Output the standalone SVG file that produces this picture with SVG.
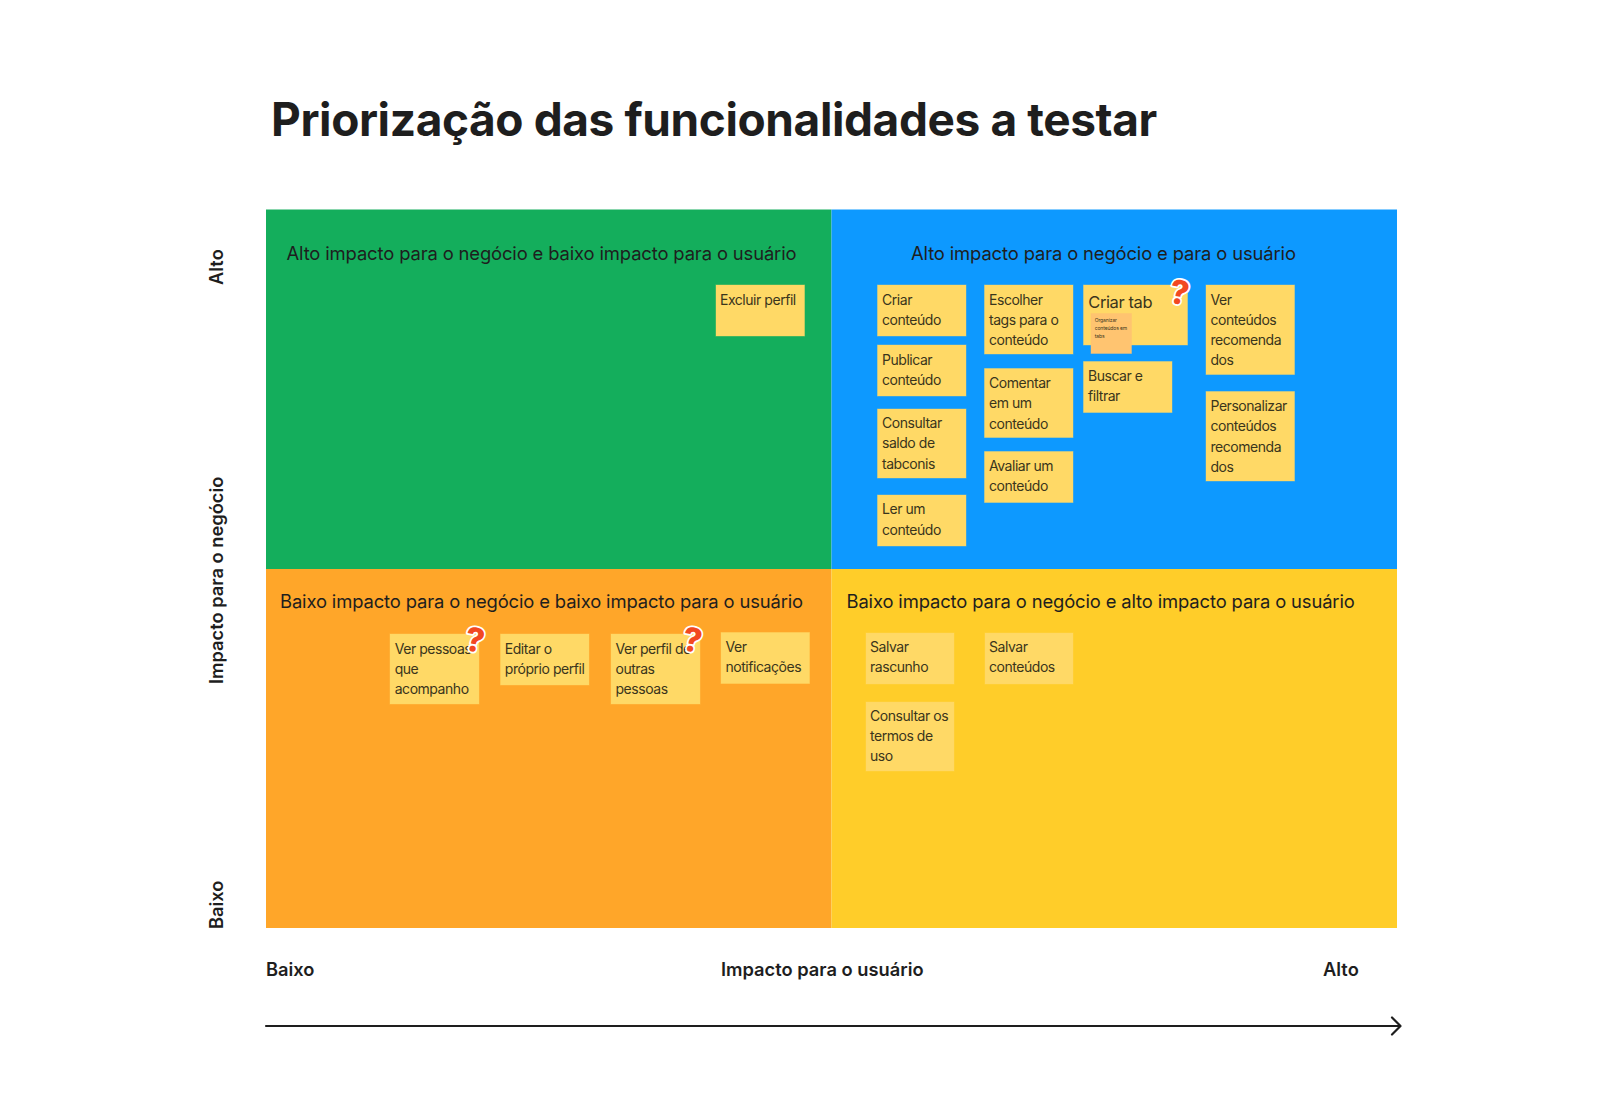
<svg xmlns="http://www.w3.org/2000/svg" width="1601" height="1120" viewBox="0 0 1601 1120">
<style>
text{font-family:Inter,"Noto Sans","Liberation Sans",sans-serif;fill:#1e1e1e}
.title{font-size:46px;font-weight:700;letter-spacing:-.4px}
.head{font-size:18.4px;letter-spacing:-.13px}
.axis{font-size:18.300px;font-weight:600}
.sticky rect{fill:#ffd966;stroke:#ffd966;stroke-opacity:.4;stroke-width:1}
.sticky text{font-size:14px;fill:#3a351c;letter-spacing:-.46px}
.q{font-size:33px;font-weight:800;fill:#f24822;stroke:#fff;stroke-width:3.5;paint-order:stroke;stroke-linejoin:round}
</style>
<rect width="1601" height="1120" fill="#fff"/>
<text class="title" x="271" y="136">Priorização das funcionalidades a testar</text>
<g id="quad-green"><rect x="266" y="209.500" width="565.500" height="359.500" fill="#14ae5c"/><text class="head" x="286.500" y="260">Alto impacto para o negócio e baixo impacto para o usuário</text></g>
<g id="quad-blue"><rect x="831.500" y="209.500" width="565.500" height="359.500" fill="#0d99ff"/><text class="head" x="911" y="260">Alto impacto para o negócio e para o usuário</text></g>
<g id="quad-orange"><rect x="266" y="569" width="565.500" height="359" fill="#ffa629"/><text class="head" x="280" y="608">Baixo impacto para o negócio e baixo impacto para o usuário</text></g>
<g id="quad-yellow"><rect x="831.500" y="569" width="565.500" height="359" fill="#ffcd29"/><text class="head" x="846.500" y="608">Baixo impacto para o negócio e alto impacto para o usuário</text></g>

<g id="s-excluir" class="sticky"><rect x="716" y="285" width="88.500" height="51"/><text x="720" y="304.500">Excluir perfil</text></g>
<g id="s-criar" class="sticky"><rect x="877.500" y="285" width="88.500" height="51"/><text x="882" y="304.500">Criar</text><text x="882" y="324.800">conteúdo</text></g>
<g id="s-publicar" class="sticky"><rect x="877.500" y="345" width="88.500" height="51"/><text x="882" y="364.500">Publicar</text><text x="882" y="384.800">conteúdo</text></g>
<g id="s-consultar" class="sticky"><rect x="877.500" y="409" width="88.500" height="69"/><text x="882" y="428">Consultar</text><text x="882" y="448.400">saldo de</text><text x="882" y="469">tabconis</text></g>
<g id="s-ler" class="sticky"><rect x="877.500" y="495" width="88.500" height="51"/><text x="882" y="514">Ler um</text><text x="882" y="534.500">conteúdo</text></g>
<g id="s-escolher" class="sticky"><rect x="984.500" y="285" width="88.500" height="69"/><text x="989" y="304.500">Escolher</text><text x="989" y="324.800">tags para o</text><text x="989" y="345.100">conteúdo</text></g>
<g id="s-comentar" class="sticky"><rect x="984.500" y="368.500" width="88.500" height="69"/><text x="989" y="388">Comentar</text><text x="989" y="408.300">em um</text><text x="989" y="428.600">conteúdo</text></g>
<g id="s-avaliar" class="sticky"><rect x="984.500" y="451.500" width="88.500" height="51"/><text x="989" y="471">Avaliar um</text><text x="989" y="491.300">conteúdo</text></g>
<g id="s-criar-tab" class="sticky"><rect x="1083.500" y="285" width="104" height="60"/><text x="1088.300" y="308.300" style="font-size:16.500px;letter-spacing:-.4px">Criar tab</text></g>
<g id="s-organizar" class="sticky"><rect x="1091" y="313.500" width="40.500" height="40" style="fill:#ffc470;stroke:#ffc470"/><text x="1094.700" y="322.300" style="font-size:5px;letter-spacing:-.1px">Organizar</text><text x="1094.700" y="330" style="font-size:5px;letter-spacing:-.1px">conteúdos em</text><text x="1094.700" y="337.500" style="font-size:5px;letter-spacing:-.1px">tabs</text></g>
<g id="s-buscar" class="sticky"><rect x="1083.500" y="361.500" width="88.500" height="51"/><text x="1088" y="381">Buscar e</text><text x="1088" y="401.300">filtrar</text></g>
<g id="s-ver" class="sticky"><rect x="1206" y="285" width="88.500" height="89.500"/><text x="1210.500" y="304.500">Ver</text><text x="1210.500" y="324.800">conteúdos</text><text x="1210.500" y="345.100">recomenda</text><text x="1210.500" y="365.400">dos</text></g>
<g id="s-personalizar" class="sticky"><rect x="1206" y="391.500" width="88.500" height="89.500"/><text x="1210.500" y="411">Personalizar</text><text x="1210.500" y="431.300">conteúdos</text><text x="1210.500" y="451.600">recomenda</text><text x="1210.500" y="471.900">dos</text></g>
<g id="s-pessoas" class="sticky"><rect x="390" y="634" width="89" height="70"/><text x="394.700" y="653.500">Ver pessoas</text><text x="394.700" y="673.800">que</text><text x="394.700" y="694.100">acompanho</text></g>
<g id="s-editar" class="sticky"><rect x="500.500" y="634" width="88.500" height="51"/><text x="504.800" y="653.500">Editar o</text><text x="504.800" y="673.800">próprio perfil</text></g>
<g id="s-perfil" class="sticky"><rect x="611" y="634" width="89" height="70"/><text x="615.500" y="653.500">Ver perfil de</text><text x="615.500" y="673.800">outras</text><text x="615.500" y="694.100">pessoas</text></g>
<g id="s-notif" class="sticky"><rect x="721" y="632.500" width="88.500" height="51"/><text x="725.500" y="651.500">Ver</text><text x="725.500" y="671.800">notificações</text></g>
<g id="s-rascunho" class="sticky"><rect x="866" y="633" width="88" height="51"/><text x="870" y="651.500">Salvar</text><text x="870" y="671.800">rascunho</text></g>
<g id="s-salvar" class="sticky"><rect x="985" y="633" width="88" height="51"/><text x="989" y="651.500">Salvar</text><text x="989" y="671.800">conteúdos</text></g>
<g id="s-termos" class="sticky"><rect x="866" y="702" width="88" height="69"/><text x="870" y="721">Consultar os</text><text x="870" y="741.300">termos de</text><text x="870" y="761.300">uso</text></g>

<g id="q1"><text class="q" text-anchor="middle" transform="translate(1177.500 304) rotate(10)">?</text></g>
<g id="q2"><text class="q" text-anchor="middle" transform="translate(473 651.500) rotate(10)">?</text></g>
<g id="q3"><text class="q" text-anchor="middle" transform="translate(690.500 651.500) rotate(10)">?</text></g>

<g id="axis-x"><text class="axis" x="266" y="976">Baixo</text><text class="axis" x="721" y="976">Impacto para o usuário</text><text class="axis" x="1323" y="976">Alto</text></g>
<g id="axis-y"><text class="axis" transform="translate(223 285) rotate(-90)">Alto</text><text class="axis" transform="translate(223 684) rotate(-90)">Impacto para o negócio</text><text class="axis" transform="translate(223 929) rotate(-90)">Baixo</text></g>
<g id="connectors" fill="none" stroke="#1e1e1e" stroke-width="2.200" stroke-linecap="round" stroke-linejoin="round"><path d="M266 1026H1400"/><path d="M1392 1017.500L1400.500 1026L1392 1034.500"/></g>
</svg>
